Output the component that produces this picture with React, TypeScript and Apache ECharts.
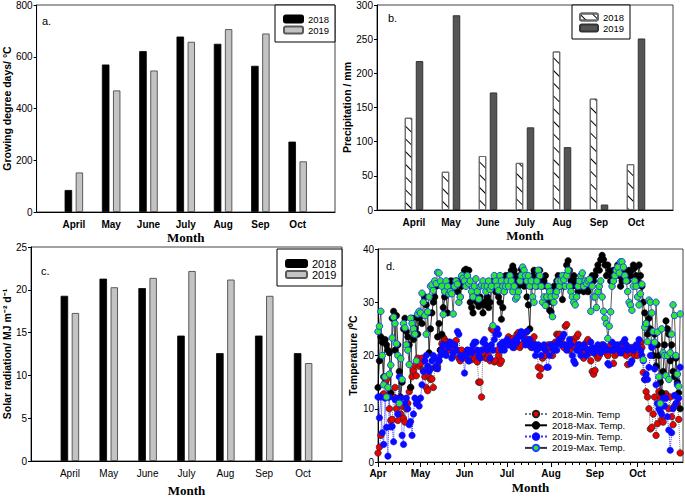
import React, { useEffect, useRef } from "react";
import * as echarts from "echarts";

// ---------- Panel data ----------
const months = ["April", "May", "June", "July", "Aug", "Sep", "Oct"];

// a. Growing degree days (°C)
const gdd2018 = [85, 570, 622, 678, 650, 565, 272];
const gdd2019 = [153, 470, 547, 658, 707, 690, 196];

// b. Precipitation (mm)
const prec2018 = [135, 56, 79, 69, 232, 163, 67];
const prec2019 = [218, 285, 172, 121, 92, 8, 251];

// c. Solar radiation (MJ m-2 d-1)
const rad2018 = [19.3, 21.3, 20.2, 14.65, 12.6, 14.65, 12.6];
const rad2019 = [17.3, 20.3, 21.4, 22.2, 21.2, 19.3, 11.45];

// d. Daily temperature, Apr 1 – Oct 31 (one sub-list per month)
const dayMonthLabels = ["Apr", "May", "Jun", "Jul", "Aug", "Sep", "Oct"];
const daysInMonth = [30, 31, 30, 31, 31, 30, 31];

const min2018 = [
  [1.7,2.8,5.0,12.5,12.8, 15.0,15.5,12.2,10.0,7.8, 8.0,12.2,14.0,10.0,7.8, 11.0,9.0,10.5,8.2,7.5, 10.0,11.0,13.2,14.0,16.0, 17.2,18.2,16.2,19.5,18.0],
  [18.5,19.5,17.2,16.0,14.0, 13.4,16.0,15.5,15.6,14.0, 17.8,17.6,18.0,19.0,21.0, 22.2,23.4,23.0,22.6,21.0, 22.5,21.0,21.5,20.0,22.0, 22.8,21.0,19.5,19.0,21.0, 20.0],
  [20.2,19.5,21.0,19.0,20.5, 19.2,21.0,19.5,20.0,18.8, 15.0,15.0,12.2,21.0,20.4, 19.5,19.5,20.0,19.0,25.0, 24.8,18.8,19.0,21.0,20.0, 18.5,19.0,21.5,22.0,22.0],
  [22.0,23.5,22.5,23.0,23.2, 21.5,22.0,24.0,24.3,21.5, 22.0,24.2,23.5,22.8,24.5, 23.0,22.0,21.5,22.5,23.5, 22.0,21.5,17.8,16.2,17.5, 19.5,21.5,20.0,21.0,22.0, 21.5],
  [22.0,20.0,21.0,22.5,24.0, 23.8,24.0,22.5,22.0,21.5, 25.5,25.8,22.0,21.0,22.0, 23.0,22.5,21.5,23.5,24.0, 22.0,20.5,20.0,19.5,21.0, 22.5,23.0,20.5,19.0,17.0, 16.5],
  [17.2,20.0,19.5,20.0,21.5, 22.0,21.5,21.0,20.5,20.0, 21.5,22.0,21.0,18.5,20.0, 21.0,20.5,21.5,22.0,20.5, 21.0,21.5,20.0,18.3,21.0, 20.5,21.5,21.0,20.0,21.5],
  [20.0,21.5,22.5,21.5,16.8, 15.5,13.2,12.2,10.0,6.2, 6.5,9.0,12.2,5.0,7.2, 13.2,12.0,8.0,7.5,12.5, 12.8,12.3,10.0,12.2,8.5, 7.0,10.5,12.5,11.0,8.0, 1.7],
];
const max2018 = [
  [14.0,19.0,23.5,22.5,16.0, 23.0,22.0,21.0,20.5,13.0, 27.0,28.3,21.0,27.5,22.0, 17.0,12.2,15.0,25.0,27.0, 24.5,23.5,22.0,14.0,27.0, 23.0,25.0,27.2,24.0,27.0],
  [27.5,26.0,30.0,31.0,29.5, 28.0,20.5,25.0,28.0,30.0, 31.0,33.0,23.5,26.0,21.0, 24.0,29.0,31.0,32.0,28.0, 33.0,34.0,34.0,33.0,33.5, 34.0,32.0,34.0,31.0,33.0, 35.0],
  [36.0,36.2,35.0,36.0,30.0, 29.0,28.0,30.5,31.0,30.0, 29.2,31.0,30.0,28.0,29.5, 30.2,31.0,29.0,30.0,33.0, 34.0,33.0,32.0,32.0,31.0, 30.0,26.8,29.0,32.0,35.0],
  [34.0,35.0,35.0,36.0,36.8, 36.0,35.0,34.0,33.0,35.0, 36.2,35.0,33.0,34.0,31.0, 29.5,25.0,33.0,35.0,36.0, 34.0,33.0,35.0,36.0,34.0, 33.0,34.0,35.0,33.0,30.0, 28.5],
  [28.2,30.0,33.0,32.0,34.0, 35.0,33.0,34.0,30.5,33.0, 35.0,37.0,37.8,36.0,34.0, 33.0,35.0,34.0,33.0,32.0, 34.0,35.0,33.0,32.0,33.0, 34.0,32.0,33.0,34.0,35.0, 34.0],
  [35.0,36.0,37.0,36.0,38.0, 38.8,38.0,37.0,35.0,37.0, 36.0,34.0,35.0,36.0,35.0, 36.0,37.0,35.0,33.0,34.0, 35.0,36.0,35.0,34.0,36.0, 35.0,36.0,37.0,36.5,35.0],
  [34.0,37.0,35.0,33.0,30.0, 28.0,26.0,24.0,27.0,25.0, 22.0,20.0,24.0,18.0,22.0, 20.0,15.0,13.0,17.0,22.0, 26.5,25.0,24.0,19.0,22.0, 17.0,16.0,19.5,15.0,13.0, 10.0],
];
const min2019 = [
  [12.2,8.3,12.2,5.5,3.3, 12.0,6.5,1.1,12.2,6.6, 6.7,3.8,11.7,12.0,9.0, 16.0,12.0,5.0,3.3,11.0, 12.0,10.0,7.0,7.6,5.0, 9.0,12.0,11.0,11.5,10.5],
  [12.0,14.5,17.0,19.0,20.0, 18.0,17.0,17.5,19.0,20.0, 19.5,18.0,17.5,19.0,20.0, 21.0,22.0,20.5,20.0,22.0, 21.5,22.5,19.5,20.5,22.0, 21.0,24.5,24.0,20.0,19.5, 20.0],
  [16.7,20.0,21.0,19.0,21.0, 20.5,22.0,22.5,22.5,21.0, 20.0,19.5,21.0,22.5,23.0, 22.0,21.0,21.5,19.5,22.0, 21.0,23.0,24.0,25.0,24.0, 22.0,21.0,22.5,21.0,22.0],
  [23.0,22.0,22.5,22.0,21.5, 22.0,23.0,22.5,23.5,24.0, 24.5,24.0,23.0,22.0,24.5, 22.0,23.0,22.0,21.5,22.0, 20.0,21.0,22.0,21.5,20.0, 21.5,22.0,21.0,17.8,17.8, 20.0],
  [22.0,21.5,21.0,22.0,21.0, 22.5,23.0,22.0,23.5,24.0, 22.0,21.0,22.0,23.0,22.0, 20.0,19.0,18.5,21.0,22.0, 21.0,20.0,21.5,22.0,21.5, 20.0,21.0,21.0,22.5,21.5, 20.5],
  [21.0,21.5,22.0,21.0,20.5, 21.0,22.0,21.5,21.0,18.5, 18.2,21.0,22.5,21.0,22.0, 21.5,22.0,21.0,20.5,21.0, 22.5,23.0,22.0,21.0,21.5, 18.5,19.0,21.0,21.5,22.0],
  [22.0,23.0,21.0,20.0,19.0, 15.5,16.5,15.5,17.8,20.0, 21.5,22.0,17.5,14.5,11.0, 10.0,9.5,9.0,12.0,10.5, 12.0,8.5,6.0,2.2,5.5, 10.0,12.5,11.0,14.5,12.0, 17.8],
];
const max2019 = [
  [24.5,25.5,28.3,20.0,14.5, 16.0,12.2,14.0,16.5,18.2, 23.3,27.2,26.0,22.2,20.0, 11.0,19.4,15.5,26.0,25.2, 22.0,21.0,18.3,27.0,26.0, 25.0,24.0,19.0,27.8,28.3],
  [28.0,31.7,30.0,27.5,24.0, 28.2,31.0,33.0,33.3,32.2, 34.0,33.5,35.6,35.5,34.0, 33.0,27.7,32.0,34.0,33.0, 31.6,32.0,31.6,27.8,33.0, 34.0,33.4,30.0,31.0,35.0, 34.5],
  [34.0,33.0,35.0,33.5,34.0, 32.0,31.0,33.0,34.4,32.0, 30.6,33.0,33.2,34.0,33.0, 32.0,33.0,34.0,32.4,33.0, 25.6,35.0,34.0,33.0,32.2, 35.0,34.0,33.0,32.0,33.0],
  [34.0,33.0,35.0,34.0,32.0, 33.0,30.6,31.0,32.0,34.0, 35.0,36.6,36.0,35.0,34.0, 35.0,33.0,34.0,31.0,30.0, 33.0,34.0,36.0,35.0,33.0, 30.0,31.0,29.4,31.0,33.0, 32.0],
  [31.0,27.3,30.0,31.2,32.0, 34.0,33.0,34.0,35.0,34.2, 33.0,35.0,36.0,33.0,32.0, 31.0,30.0,29.5,31.0,33.0, 34.0,35.0,35.5,33.0,34.0, 33.5,34.0,34.3,28.3,33.0, 31.0],
  [31.0,29.0,32.0,33.0,34.0, 31.0,28.3,27.0,26.0,23.2, 25.5,28.2,33.0,34.0,35.0, 36.0,36.6,35.5,37.6,37.6, 36.6,35.0,34.0,32.0,30.0, 29.5,28.5,33.0,34.0,33.0],
  [31.0,29.5,31.6,33.4,19.2, 25.3,26.0,22.6,30.4,30.0, 28.0,24.5,22.5,30.0,24.4, 16.0,11.0,25.0,20.5,20.0, 16.2,20.0,15.5,20.5,24.0, 29.5,27.5,20.0,16.5,14.2, 27.8],
];

// ---------- helpers ----------
const barCats = ["", ...months, ""];
const pad = (a: number[]) => [null, ...a, null];
const flattenDaily = (m: number[][]) =>
  m.flatMap((arr, i) => {
    const n = daysInMonth[i];
    const out: (number | null)[] = arr.slice(0, n);
    while (out.length < n) out.push(null);
    return out;
  });

const monthStartIdx: number[] = [];
{
  let acc = 0;
  for (const n of daysInMonth) {
    monthStartIdx.push(acc);
    acc += n;
  }
}
const totalDays = daysInMonth.reduce((s, n) => s + n, 0);
const dayCats: string[] = [];
for (let i = 0; i <= totalDays + 1; i++) dayCats.push("d" + i);
const minorTickIdx: number[] = [];
monthStartIdx.forEach((s) => [5, 10, 15, 20, 25].forEach((o) => minorTickIdx.push(s + o)));

const SANS = "'Liberation Sans', Arial, sans-serif";
const SERIF = "'Liberation Serif', 'Times New Roman', serif";

const monthNameStyle = { fontFamily: SERIF, fontWeight: "bold" as const, fontSize: 13, color: "#000" };
const yNameStyle = { fontFamily: SANS, fontWeight: "bold" as const, fontSize: 10.5, color: "#000" };

function barXAxis(gridIndex: number, bold: boolean, nameGap: number) {
  return {
    gridIndex,
    type: "category",
    position: "bottom",
    data: barCats,
    boundaryGap: false,
    axisLine: { show: true, lineStyle: { color: "#000", width: 1 } },
    axisTick: { show: false },
    axisLabel: { interval: 0, color: "#000", fontSize: 10, fontWeight: bold ? "bold" : "normal", margin: 7, fontFamily: SANS },
    splitLine: { show: false },
    name: "Month",
    nameLocation: "middle",
    nameGap,
    nameTextStyle: monthNameStyle,
  };
}
function valYAxis(gridIndex: number, max: number, interval: number, name: string, nameGap: number) {
  return {
    gridIndex,
    type: "value",
    min: 0,
    max,
    interval,
    axisLine: { show: true, lineStyle: { color: "#000", width: 1 } },
    axisTick: { show: true, length: 3, lineStyle: { color: "#000" } },
    axisLabel: { color: "#000", fontSize: 10, margin: 4, fontFamily: SANS },
    splitLine: { show: false },
    name,
    nameLocation: "middle",
    nameGap,
    nameTextStyle: yNameStyle,
  };
}

const gridBox = { show: true, borderColor: "#444", borderWidth: 1, backgroundColor: "transparent" };

const blackBar = { color: "#000", borderColor: "#000", borderWidth: 0.8 };
const greyBar = { color: "#c3c3c3", borderColor: "#5a5a5a", borderWidth: 1 };

function barSeries(name: string, idx: number, data: number[], itemStyle: any) {
  return {
    name,
    type: "bar",
    xAxisIndex: idx,
    yAxisIndex: idx,
    data: pad(data),
    barWidth: 7.5,
    barGap: "47%",
    itemStyle,
  };
}

function legendBox(names: string[], left: number, top: number, w: number, h: number, fs: number) {
  return {
    data: names,
    left,
    top,
    orient: "vertical",
    itemWidth: w,
    itemHeight: h,
    itemGap: 1,
    padding: 0,
    selectedMode: false,
    formatter: (n: string) => n.split(":")[1],
    textStyle: { fontSize: fs, color: "#000", fontFamily: SANS, lineHeight: 9 },
    z: 6,
  };
}

export default function App() {
  const ref = useRef<HTMLDivElement>(null);
  useEffect(() => {
    if (!ref.current) return;
    const chart = echarts.init(ref.current, null, { renderer: "svg" });
    const option: any = {
      animation: false,
      backgroundColor: "#fff",
      textStyle: { fontFamily: SANS },
      grid: [
        { left: 33, top: 3, width: 302, height: 209, ...gridBox },
        { left: 377, top: 3, width: 296, height: 207, ...gridBox },
        { left: 31, top: 247, width: 311, height: 219, ...gridBox },
        { left: 378, top: 249, width: 305, height: 213, ...gridBox },
      ],
      xAxis: [
        barXAxis(0, true, 19),
        barXAxis(1, true, 19),
        barXAxis(2, false, 23),
        {
          gridIndex: 3,
          type: "category",
          position: "bottom",
          data: dayCats,
          boundaryGap: false,
          axisLine: { show: true, lineStyle: { color: "#000", width: 1 } },
          axisTick: {
            show: true,
            length: 5,
            interval: (i: number) => monthStartIdx.includes(i),
            lineStyle: { color: "#000" },
          },
          axisLabel: {
            interval: (i: number) => monthStartIdx.includes(i),
            formatter: (_v: string, i: number) => {
              const k = monthStartIdx.indexOf(i);
              return k >= 0 ? dayMonthLabels[k] : "";
            },
            color: "#000",
            fontSize: 10,
            fontWeight: "bold",
            margin: 6,
            fontFamily: SANS,
          },
          splitLine: { show: false },
          name: "Month",
          nameLocation: "middle",
          nameGap: 19,
          nameTextStyle: monthNameStyle,
        },
        {
          gridIndex: 3,
          type: "category",
          position: "bottom",
          offset: 0,
          data: dayCats,
          boundaryGap: false,
          axisLine: { show: false },
          axisTick: {
            show: true,
            length: 3,
            interval: (i: number) => minorTickIdx.includes(i),
            lineStyle: { color: "#000" },
          },
          axisLabel: { show: false },
          splitLine: { show: false },
        },
      ],
      yAxis: [
        valYAxis(0, 800, 200, "Growing degree days/ °C", 17),
        valYAxis(1, 300, 50, "Precipitation / mm", 20),
        valYAxis(2, 25, 5, "Solar radiation/ MJ m⁻² d⁻¹", 16),
        valYAxis(3, 40, 10, "Temperature /⁰C", 17),
      ],
      legend: [
        legendBox(["a:2018", "a:2019"], 283, 14, 19, 7, 9.5),
        legendBox(["b:2018", "b:2019"], 579, 12, 18, 7, 9.5),
        { ...legendBox(["c:2018", "c:2019"], 285, 258, 21, 7, 11), textStyle: { fontSize: 11, color: "#000", fontFamily: SANS, lineHeight: 10 }, itemGap: 0 },
        {
          data: ["2018-Min. Temp", "2018-Max. Temp.", "2019-Min. Temp.", "2019-Max. Temp."],
          left: 524,
          top: 409,
          orient: "vertical",
          itemWidth: 22,
          itemHeight: 8,
          itemGap: 1.3,
          padding: 0,
          selectedMode: false,
          textStyle: { fontSize: 9.5, color: "#000", fontFamily: SANS, lineHeight: 8 },
          z: 6,
        },
      ],
      graphic: [
        { type: "rect", shape: { x: 275, y: 5, width: 60, height: 37 }, style: { fill: "#fff", stroke: "#000", lineWidth: 1 }, z: 3 },
        { type: "rect", shape: { x: 572, y: 5, width: 58, height: 34 }, style: { fill: "#fff", stroke: "#000", lineWidth: 1 }, z: 3 },
        { type: "rect", shape: { x: 277, y: 249, width: 65, height: 37 }, style: { fill: "#fff", stroke: "#000", lineWidth: 1 }, z: 3 },
        { type: "text", x: 42, y: 21, style: { text: "a.", fontSize: 11, fontFamily: SANS, fill: "#000", verticalAlign: "middle" }, z: 5 },
        { type: "text", x: 388, y: 18, style: { text: "b.", fontSize: 11, fontFamily: SANS, fill: "#000", verticalAlign: "middle" }, z: 5 },
        { type: "text", x: 41, y: 271, style: { text: "c.", fontSize: 11, fontFamily: SANS, fill: "#000", verticalAlign: "middle" }, z: 5 },
        { type: "text", x: 386, y: 266, style: { text: "d.", fontSize: 11, fontFamily: SANS, fill: "#000", verticalAlign: "middle" }, z: 5 },
      ],
      series: [
        barSeries("a:2018", 0, gdd2018, blackBar),
        barSeries("a:2019", 0, gdd2019, greyBar),
        barSeries("b:2018", 1, prec2018, {
          color: "#fff",
          borderColor: "#6a6a6a",
          borderWidth: 1,
          decal: {
            symbol: "rect",
            symbolSize: 1,
            color: "#000",
            dashArrayX: [1, 0],
            dashArrayY: [1, 8],
            rotation: Math.PI / 4,
          },
        }),
        barSeries("b:2019", 1, prec2019, { color: "#555", borderColor: "#333", borderWidth: 1 }),
        barSeries("c:2018", 2, rad2018, blackBar),
        barSeries("c:2019", 2, rad2019, greyBar),
        {
          name: "2018-Min. Temp",
          type: "line",
          xAxisIndex: 3,
          yAxisIndex: 3,
          data: flattenDaily(min2018),
          symbol: "circle",
          symbolSize: 6.5,
          showAllSymbol: true,
          lineStyle: { type: "dotted", color: "#777", width: 1 },
          itemStyle: { color: "#ee0000", borderColor: "#222", borderWidth: 0.7 },
        },
        {
          name: "2018-Max. Temp.",
          type: "line",
          xAxisIndex: 3,
          yAxisIndex: 3,
          data: flattenDaily(max2018),
          symbol: "circle",
          symbolSize: 6.5,
          showAllSymbol: true,
          lineStyle: { color: "#000", width: 0.8 },
          itemStyle: { color: "#000", borderColor: "#000", borderWidth: 0.5 },
        },
        {
          name: "2019-Min. Temp.",
          type: "line",
          xAxisIndex: 3,
          yAxisIndex: 3,
          data: flattenDaily(min2019),
          symbol: "circle",
          symbolSize: 6.5,
          showAllSymbol: true,
          lineStyle: { type: "dotted", color: "#3333ff", width: 1 },
          itemStyle: { color: "#0a0aff", borderColor: "#0a0aff", borderWidth: 0.5 },
        },
        {
          name: "2019-Max. Temp.",
          type: "line",
          xAxisIndex: 3,
          yAxisIndex: 3,
          data: flattenDaily(max2019),
          symbol: "circle",
          symbolSize: 6.5,
          showAllSymbol: true,
          lineStyle: { color: "#333", width: 0.8 },
          itemStyle: { color: "#2ee82e", borderColor: "#2244ff", borderWidth: 1 },
        },
      ],
    };
    chart.setOption(option);
    return () => chart.dispose();
  }, []);
  return (
    <div
      ref={ref}
      style={{ position: "absolute", left: 0, top: 0, width: 685, height: 498, background: "#fff" }}
    />
  );
}
